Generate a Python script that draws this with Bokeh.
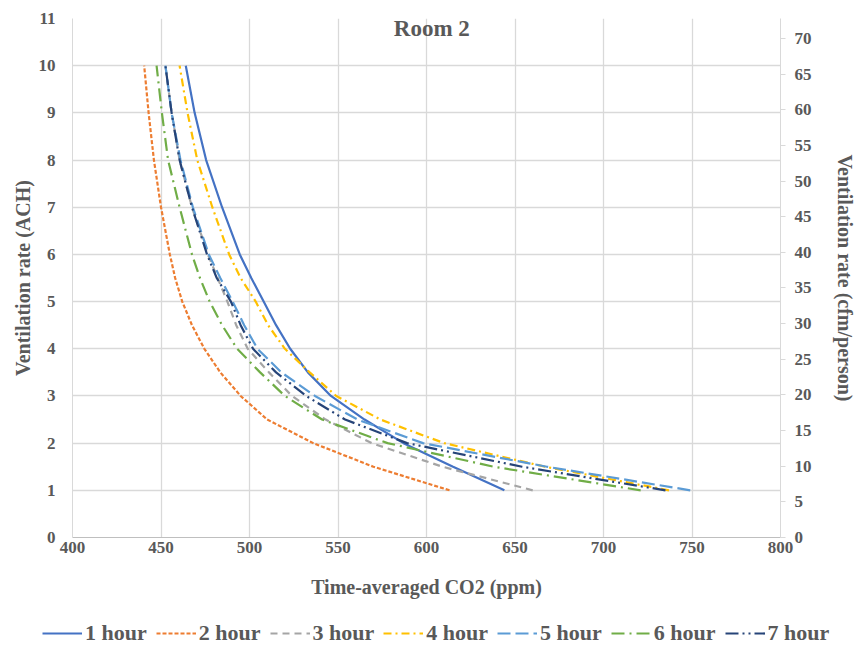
from bokeh.plotting import figure
from bokeh.models import (Range1d, LinearAxis, FixedTicker, Legend, LegendItem, Label)
from bokeh.embed import file_html
from bokeh.resources import INLINE

# ---- data ----
ach = [1, 1.5, 2, 2.5, 3, 3.5, 4, 4.5, 5, 5.5, 6, 7, 8, 9, 10]
co2_1h = [644, 615, 587, 565, 546, 533, 523, 515, 508, 501, 494.5, 484.5, 475.5, 469, 464]
co2_2h = [613, 570, 536, 510, 495, 483.5, 474.5, 467.5, 462, 458, 455, 450, 446, 443, 440.5]
co2_3h = [660, 609, 569, 543, 524, 511, 499, 492.5, 487.5, 482, 476.5, 467.5, 460.5, 456, 452.5]
co2_4h = [737, 667, 610, 574, 549, 534, 520, 510.5, 503.5, 495, 488.5, 479, 470.5, 465, 460.5]
co2_5h = [749, 668, 598, 561, 537, 518, 504.5, 497, 490.5, 483.5, 477, 468, 461, 456, 452.5]
co2_6h = [721, 638, 578, 541, 520, 506, 493, 484.5, 477.5, 472, 467.5, 460.5, 454, 450.5, 447.5]
co2_7h = [735, 654, 589, 554, 532, 515, 502, 495, 489.5, 481.5, 476, 467.5, 460.5, 456, 452.5]
series_names = ["1 hour", "2 hour", "3 hour", "4 hour", "5 hour", "6 hour", "7 hour"]
x_ticks = [400, 450, 500, 550, 600, 650, 700, 750, 800]
y_ticks = list(range(0, 12))
y2_ticks = list(range(0, 75, 5))
chart_title = "Room 2"

FONT = "Liberation Serif"
TXT = "#595959"
GRID = "#D9D9D9"

p = figure(width=858, height=610, output_backend="svg", toolbar_location=None,
           x_range=Range1d(400, 800), y_range=Range1d(0, 11),
           min_border_left=72, min_border_right=77, min_border_top=18, min_border_bottom=73)
p.outline_line_color = None
p.background_fill_color = "white"
p.border_fill_color = "white"
p.extra_y_ranges = {"cfm": Range1d(0, 72.8)}

# grids
p.xgrid.ticker = FixedTicker(ticks=x_ticks)
p.ygrid.ticker = FixedTicker(ticks=y_ticks)
p.xgrid.grid_line_color = GRID
p.ygrid.grid_line_color = GRID
p.xgrid.grid_line_width = 1.3
p.ygrid.grid_line_width = 1.3

def style_axis(ax):
    ax.major_label_text_font = FONT
    ax.major_label_text_font_style = "bold"
    ax.major_label_text_font_size = "17px"
    ax.major_label_text_color = TXT
    ax.axis_label_text_font = FONT
    ax.axis_label_text_font_style = "bold"
    ax.axis_label_text_font_size = "20px"
    ax.axis_label_text_color = TXT
    ax.minor_tick_line_color = None
    ax.minor_tick_out = 0
    ax.minor_tick_in = 0
    ax.axis_line_color = GRID

xa = p.xaxis[0]
xa.ticker = FixedTicker(ticks=x_ticks)
xa.axis_label = "Time-averaged CO2 (ppm)"
style_axis(xa)
xa.axis_line_color = "#BFBFBF"
xa.major_tick_line_color = None
xa.major_tick_out = 0
xa.major_tick_in = 0
xa.major_label_standoff = 4
xa.axis_label_standoff = 20

ya = p.yaxis[0]
ya.ticker = FixedTicker(ticks=y_ticks)
ya.axis_label = "Ventilation rate (ACH)"
style_axis(ya)
ya.major_tick_line_color = None
ya.major_tick_out = 0
ya.major_tick_in = 0
ya.major_label_standoff = 17
ya.axis_label_standoff = 2

ya2 = LinearAxis(y_range_name="cfm", axis_label="Ventilation rate (cfm/person)")
ya2.ticker = FixedTicker(ticks=y2_ticks)
style_axis(ya2)
ya2.major_tick_line_color = GRID
ya2.major_tick_in = 0
ya2.major_tick_out = 5
ya2.major_label_standoff = 9
ya2.axis_label_standoff = 19
p.add_layout(ya2, "right")

# series
styles = [
    (co2_1h, "#4472C4", "solid"),
    (co2_2h, "#ED7D31", "4 2"),
    (co2_3h, "#A5A5A5", "7 5"),
    (co2_4h, "#FFC000", "8 4 2 4"),
    (co2_5h, "#5B9BD5", "13 5"),
    (co2_6h, "#70AD47", "13 5 2 5"),
    (co2_7h, "#264478", "13 4 2 4 2 4"),
]
for xs, color, dash in styles:
    p.line(xs, ach, line_color=color, line_width=2.2, line_dash=dash)

title = Label(x=603, y=10.79, text=chart_title, text_align="center", text_baseline="middle",
              text_font=FONT, text_font_style="bold", text_font_size="23px", text_color=TXT)
p.add_layout(title)

# legend strip: a separate small root below the chart, same series and styles
lf = figure(width=858, height=36, output_backend="svg", toolbar_location=None,
            x_axis_location=None, y_axis_location=None,
            x_range=Range1d(0, 1), y_range=Range1d(0, 1),
            min_border_left=0, min_border_right=0, min_border_top=0, min_border_bottom=0)
lf.outline_line_color = None
lf.xgrid.visible = False
lf.ygrid.visible = False
lf.border_fill_color = "white"
items = []
for name, (xs, color, dash) in zip(series_names, styles):
    r = lf.line(xs, ach, line_color=color, line_width=2.2, line_dash=dash)
    items.append(LegendItem(label=name, renderers=[r]))
legend = Legend(items=items, orientation="horizontal", location=(42, 0),
                label_text_font=FONT, label_text_font_style="bold",
                label_text_font_size="22px", label_text_color=TXT,
                glyph_width=40, glyph_height=22, label_height=22,
                label_standoff=3, spacing=9, padding=0, margin=0,
                border_line_color=None, background_fill_alpha=0)
lf.add_layout(legend, "center")

open("out.html", "w").write(file_html([p, lf], INLINE))
